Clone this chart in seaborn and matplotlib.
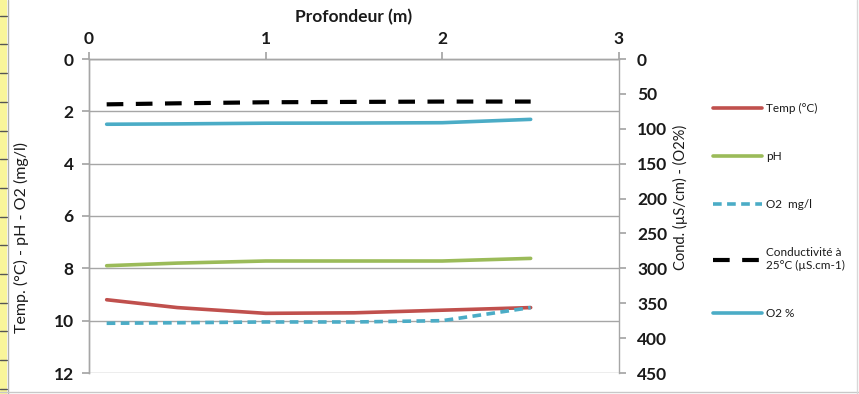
import numpy as np
import pandas as pd
import matplotlib
matplotlib.use("Agg")
import matplotlib.pyplot as plt
import seaborn as sns
from matplotlib.lines import Line2D
from matplotlib.patches import Rectangle

sns.set_theme(style="white")
plt.rcParams["font.family"] = ["Lato", "DejaVu Sans"]

# Depth profile measurements
profondeur = [0.1, 0.5, 1.0, 1.5, 2.0, 2.5]
temp = [9.2, 9.5, 9.72, 9.7, 9.6, 9.5]
ph = [7.9, 7.8, 7.72, 7.72, 7.72, 7.62]
o2_mgl = [10.1, 10.08, 10.05, 10.05, 10.0, 9.5]
conductivite = [65, 63.5, 62, 61.5, 61, 61]
o2_pct = [93.5, 93, 92, 91.8, 91.3, 86.5]

x_ticks = [0, 1, 2, 3]
left_ticks = [0, 2, 4, 6, 8, 10, 12]
right_ticks = [0, 50, 100, 150, 200, 250, 300, 350, 400, 450]

labels = ["Temp (°C)", "pH", "O2  mg/l", "Conductivité à\n25°C (µS.cm-1)", "O2 %"]

RED = "#C0504D"
GREEN = "#9BBB59"
CYAN = "#4BACC6"
GRID = "#A6A6A6"
TXT = "#1a1a1a"

df = pd.DataFrame({
    "prof": profondeur, "temp": temp, "ph": ph, "o2": o2_mgl,
    "cond": conductivite, "o2p": o2_pct,
})

fig = plt.figure(figsize=(8.59, 3.94), dpi=100)
fig.patch.set_facecolor("white")

# spreadsheet row strip on the left edge
fig.patches.append(Rectangle((0, 0), 7 / 859, 1, transform=fig.transFigure,
                             facecolor="#F9F59A", edgecolor="none", zorder=0))
for yy in np.arange(15.7, 394, 28.7):
    fig.add_artist(Line2D([0, 7 / 859], [1 - yy / 394] * 2, transform=fig.transFigure,
                          color="#555555", lw=1.0))
fig.add_artist(Line2D([7.5 / 859] * 2, [0, 1], transform=fig.transFigure, color="#B0B0B0", lw=1))
fig.add_artist(Line2D([0, 1], [1 - 392 / 394] * 2, transform=fig.transFigure, color="#C8C8C8", lw=1))
fig.add_artist(Line2D([857 / 859] * 2, [0, 1], transform=fig.transFigure, color="#D8D8D8", lw=1))

ax = fig.add_axes([89 / 859, 1 - 373 / 394, 530 / 859, 314 / 394])
ax2 = ax.twinx()

lw = 2.6
o2_dash = (0, (2.4, 1.5))
cond_dash = (0, (4.0, 3.0))
sns.lineplot(data=df, x="prof", y="temp", ax=ax, color=RED, lw=lw, zorder=3)
sns.lineplot(data=df, x="prof", y="ph", ax=ax, color=GREEN, lw=lw, zorder=3)
sns.lineplot(data=df, x="prof", y="o2", ax=ax, color=CYAN, lw=lw, zorder=3,
             linestyle=o2_dash)
sns.lineplot(data=df, x="prof", y="cond", ax=ax2, color="black", lw=3.0, zorder=3,
             linestyle=cond_dash)
sns.lineplot(data=df, x="prof", y="o2p", ax=ax2, color=CYAN, lw=lw, zorder=3)

ax.set_xlim(0, 3)
ax.set_ylim(12, 0)
ax2.set_ylim(450, 0)
ax.set_xticks(x_ticks)
ax.set_yticks(left_ticks)
ax2.set_yticks(right_ticks)

ax.xaxis.tick_top()
ax.xaxis.set_label_position("top")
ax.set_xlabel("Profondeur (m)", color=TXT, labelpad=6)
ax.xaxis.label.set_fontsize(12.5)
ax.xaxis.label.set_fontweight("bold")
ax.set_ylabel("Temp. (°C) - pH - O2 (mg/l)", fontsize=11.5, color=TXT)
ax.yaxis.set_label_coords(-0.113, 0.433)
ax2.set_ylabel("Cond. (µS/cm) - (O2%)", fontsize=10.5, color=TXT)
ax2.yaxis.set_label_coords(1.102, 0.56)

ax.grid(axis="y", color=GRID, lw=1)
ax.grid(axis="x", visible=False)
ax2.grid(False)
ax.set_axisbelow(True)

for a in (ax, ax2):
    for s in a.spines.values():
        s.set_color(GRID)
        s.set_linewidth(1)
    a.spines["bottom"].set_visible(False)
ax.spines["right"].set_visible(False)

ax.tick_params(axis="x", which="both", top=True, bottom=False, direction="out",
               length=5, color=GRID, labelsize=12.5, pad=4, labelcolor=TXT)
ax.tick_params(axis="y", left=True, direction="out", length=5, color=GRID,
               labelsize=12.5, pad=6, labelcolor=TXT)
ax2.tick_params(axis="y", right=True, direction="out", length=5, color=GRID,
                labelsize=12.5, pad=8, labelcolor=TXT)
for t in ax.get_xticklabels() + ax.get_yticklabels() + ax2.get_yticklabels():
    t.set_fontweight("bold")

handles = [
    Line2D([], [], color=RED, lw=lw),
    Line2D([], [], color=GREEN, lw=lw),
    Line2D([], [], color=CYAN, lw=lw, linestyle=o2_dash),
    Line2D([], [], color="black", lw=3.0, linestyle=cond_dash),
    Line2D([], [], color=CYAN, lw=lw),
]
leg = fig.legend(handles, labels, loc="center left", bbox_to_anchor=(708 / 859, 1 - 211 / 394),
                 frameon=False, fontsize=8.5, handlelength=4.2, handletextpad=0.3,
                 labelspacing=3.15, borderaxespad=0)
for t in leg.get_texts():
    t.set_color(TXT)

fig.savefig("out.png", dpi=100)
